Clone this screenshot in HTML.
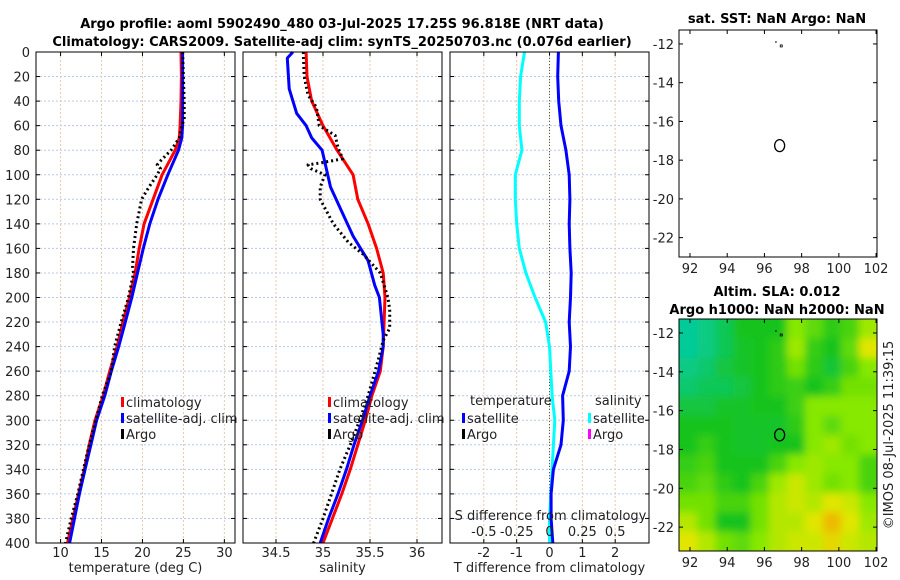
<!DOCTYPE html>
<html><head><meta charset="utf-8">
<style>
body{margin:0;background:#fff;}
svg{display:block;font-family:"DejaVu Sans","Liberation Sans",sans-serif;}
</style></head>
<body>
<svg id="fig" width="900" height="580" viewBox="0 0 900 580">
<text x="342" y="28" text-anchor="middle" font-size="13" font-weight="bold">Argo profile: aoml 5902490_480 03-Jul-2025 17.25S 96.818E (NRT data)</text>
<text x="342" y="46" text-anchor="middle" font-size="13" font-weight="bold">Climatology: CARS2009. Satellite-adj clim: synTS_20250703.nc (0.076d earlier)</text>
<text x="777" y="23" text-anchor="middle" font-size="13" font-weight="bold">sat. SST: NaN Argo: NaN</text>
<text x="777" y="296" text-anchor="middle" font-size="13" font-weight="bold">Altim. SLA: 0.012</text>
<text x="777" y="314" text-anchor="middle" font-size="13" font-weight="bold">Argo h1000: NaN h2000: NaN</text>
<text transform="translate(893,435) rotate(-90)" text-anchor="middle" font-size="13" fill="#222">©IMOS 08-Jul-2025 11:39:15</text>
<g id="root"></g>
</svg>
<script>
// ---- data ----
const depths = [0,20,40,60,70,80,100,120,140,160,180,200,220,240,260,280,300,320,340,360,380,400];
const tempClim = [24.7,24.75,24.7,24.6,24.5,24.0,22.4,21.3,20.2,19.6,19.1,18.4,17.6,16.9,16.0,15.2,14.2,13.5,12.9,12.2,11.5,10.85];
const tempSat = [24.9,24.9,24.9,24.9,24.8,24.4,23.1,21.9,20.9,20.1,19.4,18.7,17.9,17.1,16.2,15.4,14.4,13.7,13.0,12.3,11.7,11.1];
const argoDepths = [0,20,40,55,60,70,80,88,92,95,100,110,120,140,160,175,180,200,220,240,260,280,300,320,340,360,380,400];
const tempArgo = [24.9,25.0,25.1,25.1,24.8,24.5,23.5,22.3,21.8,22.2,21.8,20.8,19.9,19.3,18.9,18.8,18.9,18.3,17.4,16.6,16.2,15.1,14.3,13.5,12.8,12.1,11.3,10.6];
const salDepths = [0,20,40,60,80,100,120,140,160,180,200,220,240,260,280,300,320,340,360,380,400];
const salClim = [34.82,34.83,34.88,35.0,35.15,35.32,35.37,35.48,35.57,35.64,35.66,35.65,35.64,35.61,35.52,35.45,35.37,35.29,35.2,35.1,35.0];
const salSatDepths = [0,5,30,50,60,70,80,110,130,150,170,190,200,230,240,260,280,300,320,340,360,380,400];
const salSat = [34.68,34.62,34.64,34.72,34.82,34.88,34.99,35.08,35.2,35.32,35.48,35.55,35.6,35.64,35.64,35.59,35.5,35.42,35.33,35.25,35.16,35.06,34.97];
const salArgoDepths = [0,20,35,45,60,68,78,87,90,92,95,100,110,120,140,155,165,180,200,210,225,235,250,280,300,320,340,360,380,400];
const salArgo = [34.79,34.8,34.84,34.93,34.96,35.13,35.16,35.21,35.0,34.84,34.87,35.02,34.97,34.97,35.11,35.27,35.43,35.61,35.69,35.71,35.71,35.64,35.59,35.48,35.39,35.29,35.18,35.09,35.0,34.9];
const diffDepths = [0,20,40,60,80,100,120,140,160,180,200,220,240,260,280,300,320,340,360,380,400];
const tDiffSat = [0.27,0.25,0.28,0.35,0.5,0.6,0.62,0.6,0.62,0.66,0.64,0.6,0.64,0.6,0.4,0.42,0.35,0.12,0.05,0.05,0.1];
const sDiffSat = [-0.19,-0.22,-0.23,-0.23,-0.21,-0.26,-0.26,-0.25,-0.23,-0.18,-0.11,-0.03,0.0,0.01,0.02,0.04,0.03,0.02,0.01,0.0,0.0];
const depthTicks = [0,20,40,60,80,100,120,140,160,180,200,220,240,260,280,300,320,340,360,380,400];
const tempTicks = [10,15,20,25,30];
const salTicks = [34.5,35,35.5,36];
const tdTicks = [-2,-1,0,1,2];
const sdTicks = [-0.5,-0.25,0,0.25,0.5];
const sdTickLabels = ["-0.5","-0.25","0","0.25","0.5"];
const lonTicks = [92,94,96,98,100,102];
const latTicks = [-12,-14,-16,-18,-20,-22];
// SLA map grid (rows from north to south, 11 cols west to east), normalised 0..1
const slaGrid = [
[.05,.1,.2,.33,.33,.33,.6,.5,.38,.45,.65],
[.05,.1,.2,.3,.33,.38,.65,.4,.33,.5,.8],
[.1,.15,.25,.3,.33,.38,.55,.38,.28,.45,.6],
[.15,.2,.2,.25,.33,.38,.42,.33,.4,.55,.55],
[.25,.25,.3,.3,.33,.33,.42,.6,.6,.6,.6],
[.33,.33,.33,.3,.3,.3,.38,.6,.5,.6,.6],
[.33,.4,.33,.3,.3,.33,.33,.6,.65,.55,.6],
[.4,.45,.33,.33,.33,.45,.6,.65,.6,.6,.45],
[.45,.5,.38,.33,.45,.65,.75,.65,.55,.6,.45],
[.55,.55,.45,.45,.55,.7,.75,.7,.8,.75,.6],
[.7,.55,.33,.33,.55,.7,.7,.8,.95,.8,.65],
[.8,.7,.55,.5,.6,.7,.75,.75,.85,.75,.7]];
const argoLon = 96.818, argoLat = -17.25;

// ---- helpers ----
const NS="http://www.w3.org/2000/svg";
const root=document.getElementById('root');
function mk(tag,attrs,parent){const e=document.createElementNS(NS,tag);for(const k in attrs)e.setAttribute(k,attrs[k]);(parent||root).appendChild(e);return e;}
function lin(d0,d1,r0,r1){return v=>r0+(v-d0)/(d1-d0)*(r1-r0);}
const Y0=52,Y1=543;
const yD=lin(0,400,Y0,Y1);

function panel(x0,x1,name){
  const g=mk('g',{});
  
  
  return g;
}
function grid(g,x0,x1,xs,xf){
  depthTicks.forEach(d=>{const l=mk('line',{x1:x0,x2:x1,y1:yD(d),y2:yD(d),stroke:'#b8c8ec','stroke-width':1,'stroke-dasharray':'2,2'},g);
    
    mk('line',{x1:x0,x2:x0+4,y1:yD(d),y2:yD(d),stroke:'#000'},g);mk('line',{x1:x1-4,x2:x1,y1:yD(d),y2:yD(d),stroke:'#000'},g);});
  xs.forEach(v=>{const X=xf(v);const l=mk('line',{x1:X,x2:X,y1:Y0,y2:Y1,stroke:'#e8c8b0','stroke-width':1,'stroke-dasharray':'2,2'},g);
    
    mk('line',{x1:X,x2:X,y1:Y1-4,y2:Y1,stroke:'#000'},g);mk('line',{x1:X,x2:X,y1:Y0,y2:Y0+4,stroke:'#000'},g);});
}
function frame(g,x0,x1){const r=mk('rect',{x:x0,y:Y0,width:x1-x0,height:Y1-Y0,fill:'none',stroke:'#000','stroke-width':1},g);}
function line(g,xs,ys,xf,col,dash,name,w){
  const pts=xs.map((v,i)=>xf(v).toFixed(1)+','+yD(ys[i]).toFixed(1)).join(' ');
  const p=mk('polyline',{points:pts,fill:'none',stroke:col,'stroke-width':w||3,'stroke-dasharray':dash||'none','stroke-linejoin':'round'},g);
  
}
function txt(g,x,y,s,anchor,size,name){const t=mk('text',{x:x,y:y,'text-anchor':anchor||'start','font-size':size||13,fill:'#222'},g);t.textContent=s;return t;}
function legend(g,x,y,col,label,name){
  const r=mk('rect',{x:x,y:y-10,width:3,height:10,fill:col},g);
  txt(g,x+5,y,label,'start',13,name+'-label');
}

// ---- panel 1 temperature ----
{const x0=36,x1=235;const xf=lin(7,31.3,x0,x1);const g=panel(x0,x1,'temperature-panel');
 grid(g,x0,x1,tempTicks,xf);
 line(g,tempClim,depths,xf,'#f00',null,'temp-climatology-line');
 line(g,tempSat,depths,xf,'#00f',null,'temp-satellite-line');
 line(g,tempArgo,argoDepths,xf,'#000','2,3','temp-argo-line');
 frame(g,x0,x1);
 depthTicks.forEach(d=>txt(g,30,yD(d)+5,String(d),'end',13,'depth-tick-label'));
 tempTicks.forEach(v=>txt(g,xf(v),557,String(v),'middle',13,'temp-tick-label'));
 txt(g,(x0+x1)/2,572,'temperature (deg C)','middle',13,'temp-x-axis-title');
 legend(g,121,407,'#f00','climatology','legend-climatology');
 legend(g,121,423,'#00f','satellite-adj. clim','legend-satellite');
 legend(g,121,439,'#000','Argo','legend-argo');
}
// ---- panel 2 salinity ----
{const x0=243,x1=442;const xf=lin(34.149,36.266,x0,x1);const g=panel(x0,x1,'salinity-panel');
 grid(g,x0,x1,salTicks,xf);
 line(g,salClim,salDepths,xf,'#f00',null,'sal-climatology-line');
 line(g,salSat,salSatDepths,xf,'#00f',null,'sal-satellite-line');
 line(g,salArgo,salArgoDepths,xf,'#000','2,3','sal-argo-line');
 frame(g,x0,x1);
 salTicks.forEach(v=>txt(g,xf(v),557,String(v),'middle',13,'sal-tick-label'));
 txt(g,(x0+x1)/2,572,'salinity','middle',13,'sal-x-axis-title');
 legend(g,328,407,'#f00','climatology','legend-climatology-2');
 legend(g,328,423,'#00f','satellite-adj. clim','legend-satellite-2');
 legend(g,328,439,'#000','Argo','legend-argo-2');
}
// ---- panel 3 differences ----
{const x0=450,x1=649;const xf=lin(-3.03,3.03,x0,x1);const sf=v=>xf(v*4);const g=panel(x0,x1,'difference-panel');
 grid(g,x0,x1,tdTicks,xf);
 const z=mk('line',{x1:xf(0),x2:xf(0),y1:Y0,y2:Y1,stroke:'#555','stroke-width':1,'stroke-dasharray':'1,2'},g);
 
 line(g,sDiffSat,diffDepths,sf,'#0ff',null,'sal-diff-satellite-line');
 line(g,tDiffSat,diffDepths,xf,'#00f',null,'temp-diff-satellite-line');
 frame(g,x0,x1);
 tdTicks.forEach(v=>txt(g,xf(v),557,String(v),'middle',13,'tdiff-tick-label'));
 txt(g,(x0+x1)/2,572,'T difference from climatology','middle',13,'tdiff-x-axis-title');
 txt(g,(x0+x1)/2+1,520,'S difference from climatology','middle',13,'sdiff-axis-title');
 sdTicks.forEach((v,i)=>txt(g,sf(v),536,sdTickLabels[i],'middle',13,'sdiff-tick-label'));
 txt(g,470,405,'temperature','start',13,'legend-temperature-heading');
 legend(g,462,423,'#00f','satellite','legend-temp-satellite');
 legend(g,462,439,'#000','Argo','legend-temp-argo');
 txt(g,595,405,'salinity','start',13,'legend-salinity-heading');
 legend(g,588,423,'#0ff','satellite','legend-sal-satellite');
 legend(g,588,439,'#f0f','Argo','legend-sal-argo');
}
// ---- map panels ----
function mapPanel(y0,y1,lat0,lat1,name,withHeat){
  const x0=679,x1=877;const xf=lin(91.41,102.05,x0,x1);const yf=lin(lat0,lat1,y0,y1);
  const g=panel(x0,x1,name);
  if(withHeat){
    const defs=mk('defs',{},g);
    const cp=mk('clipPath',{id:'clipmap'},defs);mk('rect',{x:x0,y:y0,width:x1-x0,height:y1-y0},cp);
    const f=mk('filter',{id:'bl',x:'-5%',y:'-5%',width:'110%',height:'110%'},defs);mk('feGaussianBlur',{stdDeviation:4},f);
    const hg=mk('g',{'clip-path':'url(#clipmap)'},g);
    mk('rect',{x:x0,y:y0,width:x1-x0,height:y1-y0,fill:'#3c3'},hg);
    const bg=mk('g',{filter:'url(#bl)'},hg);
    const stops=[[0,[0,205,175]],[0.33,[25,195,30]],[0.6,[135,232,0]],[0.8,[225,230,0]],[1,[240,170,0]]];
    function cmap(v){for(let i=1;i<stops.length;i++){if(v<=stops[i][0]){const a=stops[i-1],b=stops[i];const t=(v-a[0])/(b[0]-a[0]);return 'rgb('+a[1].map((c,k)=>Math.round(c+(b[1][k]-c)*t)).join(',')+')';}}return 'rgb(240,170,0)';}
    const nr=slaGrid.length,nc=slaGrid[0].length;const lonStep=(102.05-91.41)/nc,latStep=(lat1-lat0)/nr;
    slaGrid.forEach((row,r)=>row.forEach((v,c)=>{
      const cx=xf(91.41+c*lonStep),cy=yf(lat0+r*latStep);
      const ex=(c===0)?12:0, ey=(r===0)?12:0, ex2=(c===nc-1)?12:0, ey2=(r===nr-1)?12:0;
      const cell=mk('rect',{x:cx-ex,y:cy-ey,width:xf(91.41+(c+1)*lonStep)-cx+ex+ex2+0.5,height:yf(lat0+(r+1)*latStep)-cy+ey+ey2+0.5,fill:cmap(v)},bg);
      
    }));
  }
  const fr=mk('rect',{x:x0,y:y0,width:x1-x0,height:y1-y0,fill:'none',stroke:'#000'},g);
  lonTicks.forEach(v=>{const X=xf(v);mk('line',{x1:X,x2:X,y1:y1-4,y2:y1,stroke:'#000'},g);mk('line',{x1:X,x2:X,y1:y0,y2:y0+4,stroke:'#000'},g);txt(g,X,y1+16,String(v),'middle',13,'lon-tick-label');});
  latTicks.forEach(v=>{const Y=yf(v);mk('line',{x1:x0,x2:x0+4,y1:Y,y2:Y,stroke:'#000'},g);mk('line',{x1:x1-4,x2:x1,y1:Y,y2:Y,stroke:'#000'},g);txt(g,x0-5,Y+5,String(v),'end',13,'lat-tick-label');});
  const c=mk('ellipse',{cx:xf(argoLon),cy:yf(argoLat),rx:5,ry:6,fill:'none',stroke:'#000','stroke-width':1.3},g);
  
  mk('rect',{x:xf(96.85),y:yf(-12.05),width:2,height:2,fill:'none',stroke:'#000','stroke-width':0.8},g);
  mk('line',{x1:xf(96.62),x2:xf(96.62),y1:yf(-11.85),y2:yf(-11.95),stroke:'#000'},g);
}
mapPanel(30,257,-11.28,-23.0,'sst-map-panel',false);
mapPanel(319,551,-11.28,-23.23,'sla-map-panel',true);
</script>
</body></html>
